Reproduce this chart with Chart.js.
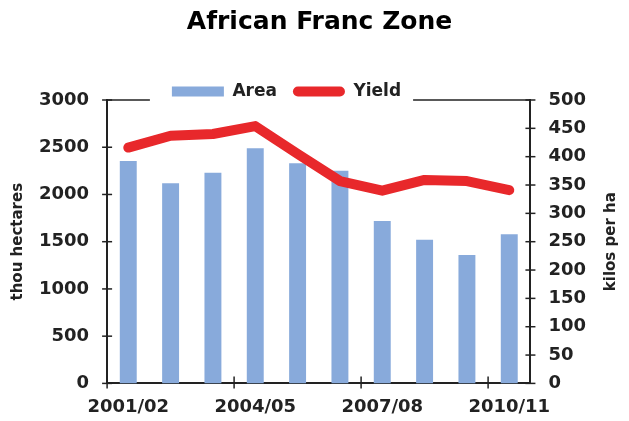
<!DOCTYPE html>
<html lang="en">
<head>
    <meta charset="UTF-8">
    <title>African Franc Zone</title>
    <script src="https://cdn.jsdelivr.net/npm/chart.js"></script>
    <style>
        body {
            margin: 0;
            padding: 0;
            background-color: white;
        }
    </style>
</head>
<body>
    <canvas id="francChart" width="629" height="421"></canvas>

    <script>
        let seasons = ["2001/02", "2002/03", "2003/04", "2004/05", "2005/06", "2006/07", "2007/08", "2008/09", "2009/10", "2010/11"];
        let areaValues = [2355, 2120, 2230, 2490, 2330, 2250, 1720, 1520, 1360, 1580];
        let yieldValues = [416, 437, 440, 454, 405, 357, 340, 359, 357, 341];
        let shownSeasons = ["2001/02", "2004/05", "2007/08", "2010/11"];

        const inkColor = '#222';
        const barColor = '#88aadb';
        const lineColor = '#e8282b';

        // axis frame: top line broken by the legend, ticks crossing the axes, right title
        const framePlugin = {
            id: 'frame',
            afterLayout(chart) {
                // legend sits over the top of the plot, a bit left of centre; title a bit right
                chart.legend.top += 10;
                chart.legend.bottom += 10;
                chart.legend.left -= 15;
                chart.legend.right -= 15;
                chart.titleBlock.left += 18;
                chart.titleBlock.right += 18;
            },
            afterDraw(chart) {
                const ctx = chart.ctx;
                const area = chart.chartArea;
                const x = chart.scales.x;
                const y = chart.scales.y;
                const y2 = chart.scales.y2;

                function line(x1, y1, x2, y2) {
                    ctx.beginPath();
                    ctx.moveTo(x1, y1);
                    ctx.lineTo(x2, y2);
                    ctx.stroke();
                }

                ctx.save();
                ctx.strokeStyle = inkColor;
                ctx.lineWidth = 1.5;

                let boxes = chart.legend.legendHitBoxes;
                let last = boxes[boxes.length - 1];
                line(area.left, area.top, boxes[0].left - 22, area.top);
                line(last.left + last.width + 12, area.top, area.right, area.top);

                y.ticks.forEach((t, i) => {
                    let py = y.getPixelForTick(i);
                    line(area.left - 5, py, area.left + 5, py);
                });
                y2.ticks.forEach((t, i) => {
                    let py = y2.getPixelForTick(i);
                    line(area.right - 5, py, area.right + 5, py);
                });

                let half = (x.getPixelForValue(1) - x.getPixelForValue(0)) / 2;
                seasons.forEach((s, i) => {
                    if (!shownSeasons.includes(s)) return;
                    let px = x.getPixelForValue(i) - half;
                    line(px, area.bottom - 7, px, area.bottom + 5);
                });

                ctx.fillStyle = inkColor;
                ctx.font = 'bold 15px "DejaVu Sans"';
                ctx.textAlign = 'center';
                ctx.textBaseline = 'middle';
                ctx.translate(chart.width - 18, (area.top + area.bottom) / 2);
                ctx.rotate(-Math.PI / 2);
                ctx.fillText('kilos per ha', 0, 0);
                ctx.restore();
            }
        };

        // tick marks are drawn by the plugin, the library ones only reserve space
        const hiddenGrid = { display: false, drawTicks: true, tickLength: 10 };

        const ctx = document.getElementById('francChart').getContext('2d');
        window.francChart = new Chart(ctx, {
            data: {
                labels: seasons,
                datasets: [
                    {
                        type: 'line',
                        label: 'Yield',
                        data: yieldValues,
                        yAxisID: 'y2',
                        borderColor: lineColor,
                        backgroundColor: lineColor,
                        borderWidth: 10,
                        borderJoinStyle: 'round',
                        borderCapStyle: 'round',
                        pointRadius: 0,
                        tension: 0,
                        order: 0
                    },
                    {
                        type: 'bar',
                        label: 'Area',
                        data: areaValues,
                        yAxisID: 'y',
                        backgroundColor: barColor,
                        barPercentage: 0.4,
                        categoryPercentage: 1,
                        order: 1
                    }
                ]
            },
            plugins: [framePlugin],
            options: {
                responsive: false,
                animation: false,
                layout: {
                    padding: { left: 9, right: 35, top: 0, bottom: 0 }
                },
                plugins: {
                    title: {
                        display: true,
                        text: 'African Franc Zone',
                        color: '#000',
                        font: { family: 'DejaVu Sans', size: 25, weight: 'bold' },
                        padding: { top: 7, bottom: 20 }
                    },
                    legend: {
                        display: true,
                        position: 'top',
                        reverse: true,
                        labels: {
                            color: inkColor,
                            font: { family: 'DejaVu Sans', size: 17, weight: 'bold' },
                            boxWidth: 52,
                            boxHeight: 10,
                            padding: 16,
                            useBorderRadius: true,
                            generateLabels(chart) {
                                return chart.data.datasets.map((ds, i) => ({
                                    text: ds.label,
                                    fillStyle: ds.type === 'line' ? lineColor : barColor,
                                    strokeStyle: 'transparent',
                                    lineWidth: 0,
                                    borderRadius: ds.type === 'line' ? 5 : 0,
                                    fontColor: inkColor,
                                    datasetIndex: i
                                }));
                            }
                        }
                    },
                    tooltip: { enabled: false }
                },
                scales: {
                    x: {
                        grid: hiddenGrid,
                        border: { color: inkColor, width: 2 },
                        ticks: {
                            color: inkColor,
                            autoSkip: false,
                            maxRotation: 0,
                            padding: 3,
                            font: { family: 'DejaVu Sans', size: 18, weight: 'bold' },
                            callback: function(value, index) {
                                let s = seasons[index];
                                return shownSeasons.includes(s) ? s : '';
                            }
                        }
                    },
                    y: {
                        position: 'left',
                        min: 0,
                        max: 3000,
                        grid: hiddenGrid,
                        border: { color: inkColor, width: 2 },
                        ticks: {
                            stepSize: 500,
                            color: inkColor,
                            padding: 8,
                            font: { family: 'DejaVu Sans', size: 18, weight: 'bold' },
                            callback: value => String(value)
                        },
                        title: {
                            display: true,
                            text: 'thou hectares',
                            color: inkColor,
                            font: { family: 'DejaVu Sans', size: 15, weight: 'bold' },
                            padding: { top: 0, bottom: 4 }
                        }
                    },
                    y2: {
                        position: 'right',
                        min: 0,
                        max: 500,
                        grid: hiddenGrid,
                        border: { color: inkColor, width: 2 },
                        ticks: {
                            stepSize: 50,
                            color: inkColor,
                            padding: 8,
                            font: { family: 'DejaVu Sans', size: 18, weight: 'bold' },
                            callback: value => String(value)
                        }
                    }
                }
            }
        });
    </script>
</body>
</html>
